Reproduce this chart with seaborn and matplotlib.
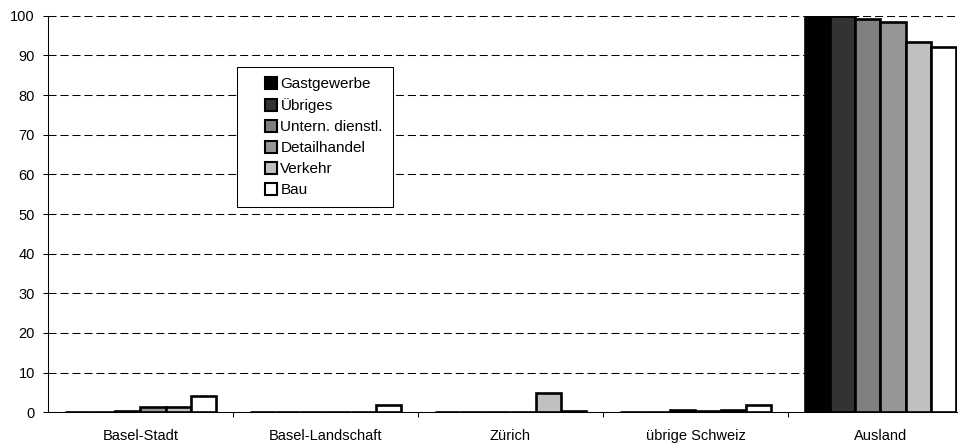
import numpy as np
import pandas as pd
import matplotlib
matplotlib.use('Agg')
import matplotlib.pyplot as plt
from matplotlib.lines import Line2D
from matplotlib.ticker import FixedLocator, MultipleLocator
import seaborn as sns

# regions on the x axis
regions = ['Basel-Stadt', 'Basel-Landschaft', 'Zürich', 'übrige Schweiz', 'Ausland']

# one list per sector, values per region (percent)
sectors = ['Gastgewerbe', 'Übriges', 'Untern. dienstl.', 'Detailhandel', 'Verkehr', 'Bau']
gastgewerbe = [0.1, 0.0, 0.0, 0.0, 100.0]
uebriges = [0.1, 0.0, 0.1, 0.0, 100.0]
untern_dienstl = [0.3, 0.1, 0.1, 0.6, 99.2]
detailhandel = [1.4, 0.1, 0.1, 0.2, 98.4]
verkehr = [1.3, 0.1, 4.8, 0.6, 93.5]
bau = [4.2, 1.8, 0.3, 1.9, 92.1]

sector_colors = ['#000000', '#333333', '#808080', '#969696', '#c0c0c0', '#ffffff']

# long table for seaborn
values = [gastgewerbe, uebriges, untern_dienstl, detailhandel, verkehr, bau]
rows = []
for sec, vals in zip(sectors, values):
    for reg, v in zip(regions, vals):
        rows.append({'Region': reg, 'Sektor': sec, 'Wert': v})
df = pd.DataFrame(rows)

plt.rcParams['font.family'] = ['Liberation Sans', 'DejaVu Sans']

fig = plt.figure(figsize=(9.63, 4.45), dpi=100)
ax = fig.add_axes([0.0498, 0.0735, 0.944, 0.891])

sns.barplot(data=df, x='Region', y='Wert', hue='Sektor', order=regions, hue_order=sectors,
            palette=sector_colors, saturation=1, edgecolor='black', linewidth=1.9,
            width=0.82, errorbar=None, legend=False, ax=ax)

ax.set_ylim(0, 100)
ax.set_xlim(-0.5, 4.414)
ax.set_xlabel('')
ax.set_ylabel('')

# dashed horizontal grid
ax.yaxis.set_major_locator(MultipleLocator(10))
ax.set_axisbelow(True)
ax.yaxis.grid(True, color='black', linewidth=0.75, linestyle=(0, (7.7, 3.8)))
ax.xaxis.grid(False)

for s in ['top', 'right']:
    ax.spines[s].set_visible(False)
for s in ['left', 'bottom']:
    ax.spines[s].set_color('black')
    ax.spines[s].set_linewidth(0.75)

# labels at group centres, ticks at group borders
ax.tick_params(axis='x', which='major', length=0, pad=12, labelsize=10.5)
ax.xaxis.set_minor_locator(FixedLocator([0.5, 1.5, 2.5, 3.5]))
ax.tick_params(axis='x', which='minor', length=3.6, width=0.75, direction='out', color='black')
ax.tick_params(axis='y', which='major', length=3.6, width=0.75, direction='out', pad=5.8,
               labelsize=10.5, color='black')

handles = [Line2D([0], [0], linestyle='none', marker='s', markersize=8.5,
                  markerfacecolor=c, markeredgecolor='black', markeredgewidth=1.5)
           for c in sector_colors]
leg = ax.legend(handles, sectors, loc='upper left', bbox_to_anchor=(0.208, 0.871),
                borderaxespad=0, fontsize=11, frameon=True, fancybox=False,
                edgecolor='black', framealpha=1, handlelength=3.11, handletextpad=-0.93,
                labelspacing=0.46, borderpad=0.66)
leg.get_frame().set_linewidth(0.75)

plt.savefig('out.png', dpi=100)
